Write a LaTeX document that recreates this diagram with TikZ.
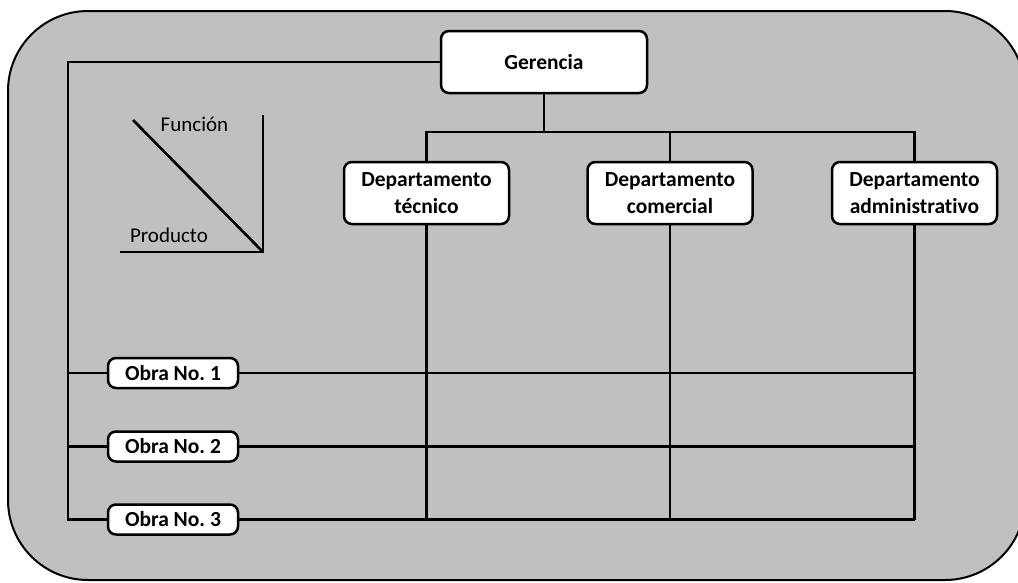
\documentclass[tikz,border=0pt]{standalone}
\usepackage{fontspec}
\setmainfont{Carlito}[Ligatures={NoCommon,NoRare}]
\frenchspacing
\begin{document}
\begin{tikzpicture}[x=1pt,y=-1pt,
  line width=2.7pt,
  box/.style={draw=black,fill=white,rounded corners=8pt,line width=2.5pt,
    inner sep=0pt,align=center,font=\fontsize{21.5}{27.5}\selectfont\bfseries},
  dept/.style={box,minimum width=165pt,minimum height=62pt},
  obra/.style={box,minimum width=130pt,minimum height=30pt},
  tag/.style={inner sep=0pt,font=\fontsize{21}{24}\selectfont}]
\useasboundingbox (0,0) rectangle (1018,582);
% background panel
\path[draw=black,fill={rgb,255:red,192;green,192;blue,192},line width=2pt,
  rounded corners=80pt] (8,11) rectangle (1025,580);

% boxes
\node[box,minimum width=206pt,minimum height=62pt] (ger) at (544,62) {Gerencia};
\node[dept] (tec) at (426.5,193) {Departamento\\técnico};
\node[dept] (com) at (670,193) {Departamento\\comercial};
\node[dept] (adm) at (914.5,193) {Departamento\\administrativo};
\node[obra] (o1) at (173,373) {Obra No. 1};
\node[obra] (o2) at (173,446.5) {Obra No. 2};
\node[obra] (o3) at (173,519.5) {Obra No. 3};

% function hierarchy
\coordinate (bus) at (544,132);
\draw (ger.south) -- (bus);
\draw (tec.north) -- (tec.north |- bus) -| (adm.north);
\draw (com.north) -- (com.north |- bus);
\draw (tec.south) -- (tec.south |- o3.east);
\draw (com.south) -- (com.south |- o3.east);
\draw (adm.south) -- (adm.south |- o3.east);

% product hierarchy
\coordinate (lt) at (68,62);
\draw (ger.west) -- (lt) -- (lt |- o3.west) -- (o3.west);
\draw (o1.west) -- (o1.west -| lt);
\draw (o2.west) -- (o2.west -| lt);
\draw (o1.east) -- (o1.east -| adm.south);
\draw (o2.east) -- (o2.east -| adm.south);
\draw (o3.east) -- (o3.east -| adm.south);

% legend
\coordinate (lgc) at (263,252);
\coordinate (lgt) at (263,115);
\coordinate (lgl) at (120,252);
\coordinate (lgd) at (133,120);
\draw (lgt) -- (lgc) -- (lgl);
\draw (lgd) -- (lgc);
\node[tag] (fun) at (194.5,124) {Función};
\node[tag] (pro) at (169,235) {Producto};
\end{tikzpicture}
\end{document}
